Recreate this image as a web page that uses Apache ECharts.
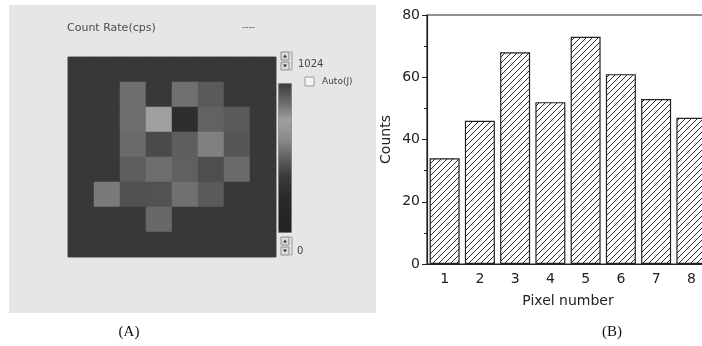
<!DOCTYPE html>
<html>
<head>
<meta charset="utf-8">
<script src="https://cdn.jsdelivr.net/npm/echarts@6/dist/echarts.min.js"></script>
<style>
html, body { margin: 0; padding: 0; background: #fff; }
#chart { width: 702px; height: 346px; }
</style>
</head>
<body>
<div id="chart"></div>
<script>
// (A) detector map: 8 x 8 pixels, count rate (cps), top row first
const mapCols = ['0', '1', '2', '3', '4', '5', '6', '7']
const mapRows = ['0', '1', '2', '3', '4', '5', '6', '7']
const mapRates = [
  [367, 367, 367, 367, 367, 367, 367, 367],
  [367, 367, 555, 367, 561, 492, 367, 367],
  [367, 367, 555, 768, 282, 518, 492, 367],
  [367, 367, 542, 438, 505, 610, 475, 367],
  [367, 367, 505, 555, 512, 451, 542, 367],
  [367, 591, 458, 465, 561, 492, 367, 367],
  [367, 367, 367, 536, 367, 367, 367, 367],
  [367, 367, 367, 367, 367, 367, 367, 367],
]
const rateRange = [0, 1024]
const rateLabels = ['1024', '0']
// colour scale as it shows in the grey print, low -> high
const grayScale = ['#222222', '#262626', '#2b2b2b', '#3a3a3a', '#606060',
  '#8a8a8a', '#a0a0a0', '#6a6a6a', '#3c3c3c']

// (B) counts per pixel
const pixels = ['1', '2', '3', '4', '5', '6', '7', '8']
const counts = [34, 46, 68, 52, 73, 61, 53, 47]
const countAxis = { min: 0, max: 80, step: 20 }

const FONT = 'DejaVu Sans'

function hatch() {
  const c = document.createElement('canvas')
  c.width = 6
  c.height = 6
  const g = c.getContext('2d')
  g.fillStyle = '#fff'
  g.fillRect(0, 0, 6, 6)
  g.strokeStyle = '#2a2a2a'
  g.lineWidth = 1
  g.beginPath()
  g.moveTo(0, 6); g.lineTo(6, 0)
  g.moveTo(-1, 1); g.lineTo(1, -1)
  g.moveTo(5, 7); g.lineTo(7, 5)
  g.stroke()
  return c
}

function spinner(x, y, up) {
  const tri = up
    ? [[x + 2, y + 5.5], [x + 6, y + 5.5], [x + 4, y + 2.5]]
    : [[x + 2, y + 2.5], [x + 6, y + 2.5], [x + 4, y + 5.5]]
  return [
    { type: 'rect', shape: { x: x, y: y, width: 8, height: 8 },
      style: { fill: '#dcdcdc', stroke: '#8a8a8a', lineWidth: 1 } },
    { type: 'polygon', shape: { points: tri }, style: { fill: '#333' } },
  ]
}

const heatData = []
mapRates.forEach((row, r) => {
  row.forEach((v, c) => heatData.push([c, r, v]))
})

const chart = echarts.init(document.getElementById('chart'))

chart.setOption({
  animation: false,
  grid: [
    { left: 68, top: 57, width: 208, height: 200, show: true,
      borderColor: '#8a8a8a', borderWidth: 1, outerBoundsMode: 'none' },
    { left: 427, top: 15, width: 282, height: 249, show: true,
      borderColor: '#222', borderWidth: 1.2, outerBoundsMode: 'none' },
  ],
  xAxis: [
    { type: 'category', gridIndex: 0, data: mapCols, show: false },
    {
      type: 'category', gridIndex: 1, data: pixels,
      axisLine: { lineStyle: { color: '#222', width: 1.2 } },
      axisTick: { length: 4, lineStyle: { color: '#222' } },
      axisLabel: { fontSize: 14, color: '#222', margin: 8, fontFamily: FONT },
      name: 'Pixel number',
      nameLocation: 'middle',
      nameGap: 30,
      nameTextStyle: { fontSize: 14, color: '#222', fontFamily: FONT },
    },
  ],
  yAxis: [
    { type: 'category', gridIndex: 0, data: mapRows, inverse: true, show: false },
    {
      type: 'value', gridIndex: 1,
      min: countAxis.min, max: countAxis.max, interval: countAxis.step,
      axisLine: { show: true, lineStyle: { color: '#222', width: 1.2 } },
      axisTick: { show: true, length: 5, lineStyle: { color: '#222' } },
      minorTick: { show: true, splitNumber: 2, length: 3, lineStyle: { color: '#222' } },
      splitLine: { show: false },
      axisLabel: { fontSize: 14, color: '#222', margin: 7, fontFamily: FONT },
      name: 'Counts',
      nameLocation: 'middle',
      nameGap: 34,
      nameRotate: 90,
      nameTextStyle: { fontSize: 14, color: '#222', fontFamily: FONT },
    },
  ],
  visualMap: {
    type: 'continuous',
    seriesIndex: 0,
    min: rateRange[0],
    max: rateRange[1],
    calculable: false,
    hoverLink: false,
    left: 278,
    top: 83,
    itemWidth: 13,
    itemHeight: 149,
    padding: 0,
    borderColor: '#7a7a7a',
    borderWidth: 1,
    inRange: { color: grayScale },
  },
  graphic: [
    { type: 'rect', z: -10, shape: { x: 9, y: 5, width: 367, height: 308 },
      style: { fill: '#e6e6e6' } },
    { type: 'text', x: 67, y: 28,
      style: { text: 'Count Rate(cps)', fill: '#4a4a4a', font: '11px "DejaVu Sans"',
        verticalAlign: 'middle' } },
    { type: 'text', x: 242, y: 28,
      style: { text: '----', fill: '#4a4a4a', font: '9px "DejaVu Sans"',
        verticalAlign: 'middle' } },
    ...spinner(281, 52, true),
    ...spinner(281, 62, false),
    ...spinner(281, 237, true),
    ...spinner(281, 247, false),
    { type: 'polyline', shape: { points: [[290, 52], [292, 52], [292, 70], [290, 70]] },
      style: { stroke: '#999', lineWidth: 1, fill: null } },
    { type: 'polyline', shape: { points: [[290, 237], [292, 237], [292, 255], [290, 255]] },
      style: { stroke: '#999', lineWidth: 1, fill: null } },
    { type: 'text', x: 298, y: 64,
      style: { text: rateLabels[0], fill: '#444', font: '10px "DejaVu Sans"',
        verticalAlign: 'middle' } },
    { type: 'text', x: 297, y: 251,
      style: { text: rateLabels[1], fill: '#444', font: '10px "DejaVu Sans"',
        verticalAlign: 'middle' } },
    { type: 'rect', shape: { x: 305, y: 77, width: 9, height: 9 },
      style: { fill: '#f4f4f4', stroke: '#999', lineWidth: 1 } },
    { type: 'text', x: 322, y: 82,
      style: { text: 'Auto(J)', fill: '#444', font: '9px "DejaVu Sans"',
        verticalAlign: 'middle' } },
    { type: 'text', x: 129, y: 332,
      style: { text: '(A)', fill: '#111', font: '15px "Liberation Serif"',
        align: 'center', verticalAlign: 'middle' } },
    { type: 'text', x: 612, y: 332,
      style: { text: '(B)', fill: '#111', font: '15px "Liberation Serif"',
        align: 'center', verticalAlign: 'middle' } },
  ],
  series: [
    {
      name: 'rate',
      type: 'heatmap',
      xAxisIndex: 0,
      yAxisIndex: 0,
      data: heatData,
      emphasis: { disabled: true },
    },
    {
      name: 'counts',
      type: 'bar',
      xAxisIndex: 1,
      yAxisIndex: 1,
      data: counts,
      barWidth: 30,
      itemStyle: {
        color: { image: hatch(), repeat: 'repeat' },
        borderColor: '#222',
        borderWidth: 1.2,
      },
      emphasis: { disabled: true },
    },
  ],
})
</script>
</body>
</html>
